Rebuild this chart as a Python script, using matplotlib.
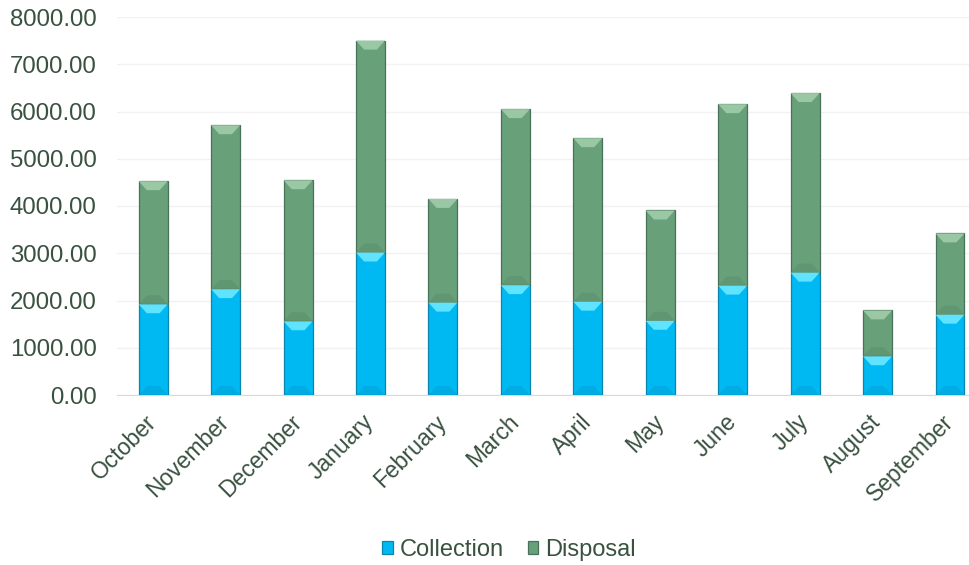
import matplotlib
matplotlib.use("Agg")
import matplotlib.pyplot as plt
from matplotlib.patches import Polygon
import numpy as np

months = ["October", "November", "December", "January", "February", "March",
          "April", "May", "June", "July", "August", "September"]
collection = [1920, 2240, 1560, 3015, 1955, 2325, 1975, 1570, 2315, 2590, 820, 1700]
totals = [4525, 5710, 4545, 7500, 4150, 6050, 5435, 3905, 6155, 6390, 1790, 3420]
disposal = [t - c for t, c in zip(totals, collection)]
yticks = [0, 1000, 2000, 3000, 4000, 5000, 6000, 7000, 8000]

plt.rcParams['font.family'] = ['Liberation Sans', 'DejaVu Sans']
txt = '#39513F'

fig = plt.figure(figsize=(9.69, 5.65), dpi=100)
ax = fig.add_axes([117/969, 1 - 395/565, 1 - 117/969, (395 - 17)/565])

x = np.arange(len(months))
w = 0.4
b1 = ax.bar(x, collection, w, color='#00B9F2', edgecolor='#0A86AE', linewidth=0.9,
            label='Collection', zorder=3)
b2 = ax.bar(x, disposal, w, bottom=collection, color='#68A079', edgecolor='#48735A',
            linewidth=0.9, label='Disposal', zorder=3)

# bevel highlights derived from bar geometry
bev = 190  # data units (~9px)
def bevel(bars, light, dark):
    for r in bars:
        x0 = r.get_x(); ww = r.get_width(); y0 = r.get_y(); h = r.get_height()
        y1 = y0 + h
        d = min(bev, h / 3)
        ax.add_patch(Polygon([(x0, y1), (x0 + ww, y1), (x0 + ww * 0.72, y1 - d),
                              (x0 + ww * 0.28, y1 - d)], closed=True,
                             facecolor=light, edgecolor='none', zorder=4))
        ax.add_patch(Polygon([(x0, y0), (x0 + ww, y0), (x0 + ww * 0.72, y0 + d),
                              (x0 + ww * 0.28, y0 + d)], closed=True,
                             facecolor=dark, edgecolor='none', zorder=4, alpha=0.3))
bevel(b1, '#5FE3FF', '#0090C0')
bevel(b2, '#9AC8A4', '#4E8060')

ax.set_ylim(0, 8000)
ax.set_xlim(-0.5, 11 + (969 - 950) / 72.4)
ax.set_yticks(yticks)
ax.set_yticklabels([f"{v:.2f}" for v in yticks])
ax.set_xticks(x)
ax.set_xticklabels(months, rotation=45, ha='right', va='center', rotation_mode='anchor')
ax.tick_params(axis='y', length=0, labelsize=17.3, labelcolor=txt, pad=14.5)
ax.tick_params(axis='x', length=0, labelsize=16.5, labelcolor=txt, pad=17)
ax.grid(axis='y', color='#F2F2F2', linewidth=1, zorder=0)
for s in ['top', 'right', 'left']:
    ax.spines[s].set_visible(False)
ax.spines['bottom'].set_color('#D9D9D9')
ax.set_axisbelow(True)

leg = fig.legend(handles=[b1, b2], labels=['Collection', 'Disposal'], loc='center',
                 bbox_to_anchor=(509/969, 1 - 550/565), ncol=2, frameon=False,
                 fontsize=17, handlelength=0.45, handleheight=0.45, handletextpad=0.3,
                 columnspacing=1.0)
for t in leg.get_texts():
    t.set_color(txt)

fig.savefig('out.png', dpi=100)
